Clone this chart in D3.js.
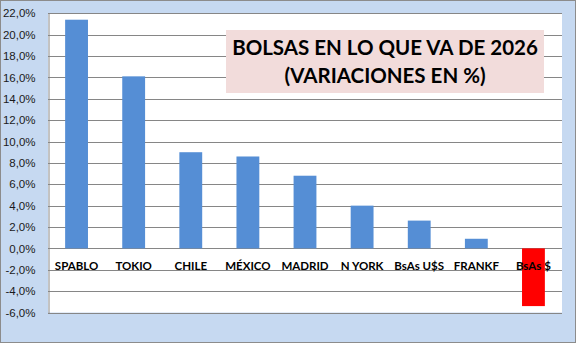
<!DOCTYPE html>
<html>
<head>
<meta charset="utf-8">
<script src="https://cdn.jsdelivr.net/npm/d3@7"></script>
<style>
  body { margin: 0; background: #fff; }
  svg { display: block; font-family: Lato, "Open Sans", sans-serif; }
</style>
</head>
<body>
<svg id="chart" width="576" height="343"></svg>
<script>
const categories = ["SPABLO", "TOKIO", "CHILE", "MÉXICO", "MADRID", "N YORK", "BsAs U$S", "FRANKF", "BsAs $"];
const values = [21.4, 16.1, 9.0, 8.6, 6.8, 4.0, 2.6, 0.9, -5.4];
const yTicks = [-6, -4, -2, 0, 2, 4, 6, 8, 10, 12, 14, 16, 18, 20, 22];
const titleLines = ["BOLSAS EN LO QUE VA DE 2026", "(VARIACIONES EN %)"];

const svg = d3.select("#chart");
const W = 576, H = 343;
const plot = { left: 48, right: 562, top: 13.3, bottom: 312.5 };

// outer chart area
svg.append("rect")
  .attr("x", 0.5).attr("y", 0.5)
  .attr("width", W - 1).attr("height", H - 1)
  .attr("fill", "#c6d9f1")
  .attr("stroke", "#8c8c8c");

svg.append("rect")
  .attr("x", plot.left).attr("y", plot.top)
  .attr("width", plot.right - plot.left).attr("height", plot.bottom - plot.top)
  .attr("fill", "#fff");

const x = d3.scaleBand().domain(categories).range([plot.left, plot.right]).paddingInner(0.6).paddingOuter(0.3);
const y = d3.scaleLinear().domain([-6, 22]).range([plot.bottom, plot.top]);

// gridlines
svg.append("g")
  .selectAll("line")
  .data(yTicks)
  .join("line")
  .attr("x1", plot.left).attr("x2", plot.right)
  .attr("y1", (d) => Math.round(y(d)) + 0.5)
  .attr("y2", (d) => Math.round(y(d)) + 0.5)
  .attr("stroke", "#868686")
  .attr("stroke-width", 1);

// y axis
const yAxis = d3.axisLeft(y)
  .tickValues(yTicks)
  .tickSize(0)
  .tickPadding(13)
  .tickFormat((d) => d3.format(".1f")(d).replace(".", ",").replace("−", "-") + "%");

svg.append("g")
  .attr("transform", `translate(${plot.left + 0.5},0)`)
  .call(yAxis)
  .call((g) => g.select(".domain").attr("stroke", "#868686"))
  .selectAll("text")
  .attr("font-size", 11.5)
  .attr("fill", "#1a1a1a");

// bars
svg.append("g")
  .selectAll("rect")
  .data(values)
  .join("rect")
  .attr("x", (d, i) => x(categories[i]))
  .attr("width", x.bandwidth())
  .attr("y", (d) => y(Math.max(0, d)))
  .attr("height", (d) => Math.abs(y(d) - y(0)))
  .attr("fill", (d) => (d < 0 ? "#ff0000" : "#558ed5"));

// category labels, next to zero line
svg.append("g")
  .selectAll("text")
  .data(categories)
  .join("text")
  .attr("x", (d) => x(d) + x.bandwidth() / 2)
  .attr("y", y(0) + 22)
  .attr("text-anchor", "middle")
  .attr("font-size", 11.5)
  .attr("font-weight", "bold")
  .attr("fill", "#000")
  .text((d) => d);

// title box
const tb = svg.append("g");
tb.append("rect")
  .attr("x", 226).attr("y", 30)
  .attr("width", 318).attr("height", 63)
  .attr("fill", "#f2dcdb");
tb.selectAll("text")
  .data(titleLines)
  .join("text")
  .attr("x", 385)
  .attr("y", (d, i) => 55 + i * 28)
  .attr("text-anchor", "middle")
  .attr("font-size", 20.5)
  .attr("font-weight", "bold")
  .attr("fill", "#000")
  .text((d) => d);
</script>
</body>
</html>
